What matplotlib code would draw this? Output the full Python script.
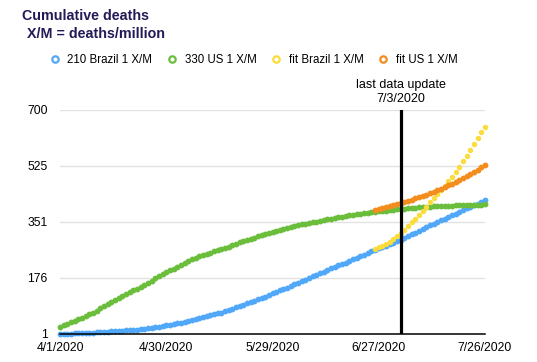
import matplotlib
matplotlib.use("Agg")
import matplotlib.pyplot as plt
import matplotlib.dates as mdates
import pandas as pd
from matplotlib.lines import Line2D

plt.rcParams["font.family"] = ["Liberation Sans", "DejaVu Sans"]

TITLE_COLOR = "#221b57"
BLUE = "#52a8f8"
GREEN = "#6bbd3c"
YELLOW = "#fbdc3a"
ORANGE = "#f28d1e"

START = "2020-04-01"
UPDATE_DATE = "2020-07-03"
TICK_DATES = ["2020-04-01", "2020-04-30", "2020-05-29", "2020-06-27", "2020-07-26"]
Y_TICKS = [1, 175.75, 350.5, 525.25, 700]
Y_LABELS = ["1", "176", "351", "525", "700"]

# deaths per million, one value per day from 4/1/2020
brazil = [
    1, 1, 2, 2, 3, 3, 4, 4, 5, 5, 6, 6, 7, 8, 9, 9, 10, 11, 12, 13,
    14, 15, 16, 18, 19, 21, 22, 24, 26, 28, 30, 32, 34, 36, 39, 41, 44, 47, 50, 53,
    56, 59, 62, 65, 68, 72, 76, 80, 84, 88, 92, 97, 101, 105, 109, 114, 118, 123, 128, 132,
    137, 141, 146, 151, 156, 161, 166, 171, 176, 181, 186, 191, 196, 201, 206, 210, 215, 220, 224, 229,
    234, 239, 244, 249, 254, 259, 263, 268, 272, 277, 281, 286, 290, 295, 301, 306, 312, 317, 323, 329,
    334, 340, 345, 351, 356, 361, 366, 372, 377, 382, 387, 393, 398, 403, 408, 414, 419,
]
us = [
    24, 28, 32, 37, 42, 47, 52, 57, 62, 68, 74, 81, 88, 94, 100, 106, 113, 120, 126, 132,
    137, 142, 148, 154, 160, 166, 176, 182, 188, 194, 200, 205, 210, 215, 221, 228, 235, 239, 243, 247,
    251, 255, 259, 263, 266, 270, 274, 278, 283, 287, 291, 295, 298, 302, 306, 310, 313, 316, 319, 323,
    326, 329, 333, 336, 338, 340, 343, 345, 347, 350, 352, 354, 357, 359, 361, 363, 365, 367, 369, 371,
    372, 374, 376, 378, 380, 381, 382, 384, 385, 386, 387, 389, 390, 391, 392, 393, 394, 395, 396, 396,
    397, 398, 399, 399, 400, 400, 401, 401, 402, 402, 403, 403, 404, 404, 405, 405, 406,
]
FIT_START = "2020-06-26"
fit_brazil = [
    266, 271, 276, 282, 289, 297, 306, 315, 325, 338, 349, 360, 372, 385, 398, 412, 424, 437,
    450, 464, 478, 492, 507, 523, 541, 557, 575, 593, 612, 630, 648,
]
fit_us = [
    388, 391, 394, 397, 400, 403, 406, 410, 413, 417, 420, 424, 428, 432, 436, 440, 445, 450,
    455, 460, 465, 470, 476, 482, 488, 494, 500, 507, 514, 521, 528,
]

days = pd.date_range(START, periods=len(brazil), freq="D")
fit_days = pd.date_range(FIT_START, periods=len(fit_brazil), freq="D")

fig = plt.figure(figsize=(5.37, 3.62), dpi=100)
ax = fig.add_axes([60 / 537, 28 / 362, 425 / 537, 224 / 362])

series = [
    (days, brazil, BLUE, "210 Brazil 1 X/M", 4.2),
    (days, us, GREEN, "330 US 1 X/M", 4.2),
    (fit_days, fit_brazil, YELLOW, "fit Brazil 1 X/M", 3.9),
    (fit_days, fit_us, ORANGE, "fit US 1 X/M", 4.2),
]
handles = []
for x, y, c, name, ms in series:
    ax.plot(x, y, linestyle="none", marker="o", markersize=ms, markeredgewidth=0,
            color=c, clip_on=False, zorder=3)
    handles.append(Line2D([], [], linestyle="none", marker="o", markersize=4.6,
                          markerfacecolor="none", markeredgecolor=c, markeredgewidth=1.6,
                          label=name))

update = pd.Timestamp(UPDATE_DATE)
ax.axvline(update, color="black", lw=2.3, zorder=5)
ax.text(update, 717, "last data update\n7/3/2020", ha="center", va="bottom",
        fontsize=9, linespacing=1.15)

ax.set_xlim(days[0], days[-1])
ax.set_ylim(1, 700)
ax.set_yticks(Y_TICKS)
ax.set_yticklabels(Y_LABELS)
ax.set_xticks(pd.to_datetime(TICK_DATES))
ax.xaxis.set_major_formatter(mdates.DateFormatter("%-m/%-d/%Y"))
ax.tick_params(axis="y", length=0, pad=9, labelsize=8.7)
ax.tick_params(axis="x", length=0, pad=5.5, labelsize=8.7)
ax.grid(axis="y", color="#e2e2e2", lw=1)
ax.set_axisbelow(True)
for s in ["top", "right", "left"]:
    ax.spines[s].set_visible(False)
ax.spines["bottom"].set_color("black")
ax.spines["bottom"].set_linewidth(1.1)
ax.spines["bottom"].set_zorder(4)

fig.text(22 / 537, 1 - 20 / 362, "Cumulative deaths", fontsize=10.3, fontweight="bold",
         color=TITLE_COLOR, va="baseline", ha="left")
fig.text(27 / 537, 1 - 38 / 362, "X/M = deaths/million", fontsize=10.3, fontweight="bold",
         color=TITLE_COLOR, va="baseline", ha="left")

fig.legend(handles=handles, loc="center", bbox_to_anchor=(254 / 537, 1 - 60 / 362),
           ncol=4, frameon=False, fontsize=8.3, handlelength=0.8, handletextpad=0.7,
           columnspacing=1.3, borderaxespad=0, borderpad=0)

fig.savefig("out.png", dpi=100)
